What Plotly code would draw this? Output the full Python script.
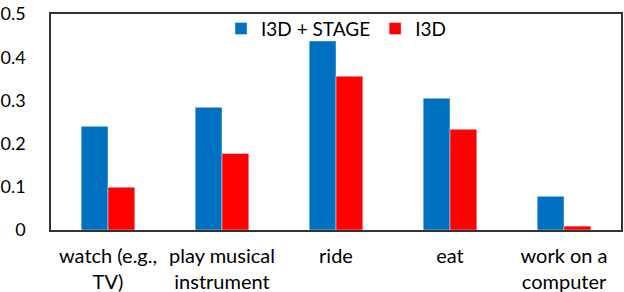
import plotly.graph_objects as go

categories = ["watch (e.g.,<br>TV)", "play musical<br>instrument", "ride", "eat", "work on a<br>computer"]
stage_vals = [0.24, 0.284, 0.4375, 0.305, 0.078]
i3d_vals = [0.099, 0.177, 0.356, 0.233, 0.009]
y_ticks = [0, 0.1, 0.2, 0.3, 0.4, 0.5]

FONT = "Lato"

fig = go.Figure()
fig.add_trace(go.Bar(x=categories, y=stage_vals, name="I3D + STAGE", marker_color="#0070C0"))
fig.add_trace(go.Bar(x=categories, y=i3d_vals, name="I3D", marker_color="#FF0000"))

fig.update_layout(
    width=624, height=292,
    margin=dict(l=51, r=3, t=14, b=62, autoexpand=False),
    paper_bgcolor="white", plot_bgcolor="white",
    barmode="group", bargap=0.53, bargroupgap=0,
    font=dict(family=FONT, size=20, color="#000000"),
    legend=dict(orientation="h", x=0.5, xanchor="center", y=1.02, yanchor="top",
                font=dict(family=FONT, size=19), bgcolor="rgba(0,0,0,0)",
                itemwidth=30, tracegroupgap=0),
    showlegend=True,
)
fig.update_xaxes(showline=True, linecolor="#333333", linewidth=1.5, mirror=True,
                 ticks="", tickfont=dict(family=FONT, size=20), showgrid=False,
                 ticklabelstandoff=7, automargin=False)
fig.update_yaxes(range=[0, 0.5], tickvals=y_ticks, showline=True, linecolor="#333333",
                 linewidth=1.5, mirror=True, showgrid=False, ticks="",
                 tickfont=dict(family=FONT, size=18), ticklabelstandoff=20, zeroline=False,
                 automargin=False)

fig.write_html("out.html", config={"displayModeBar": False},
               post_script="document.body.style.margin='0';document.body.style.overflow='hidden';")
